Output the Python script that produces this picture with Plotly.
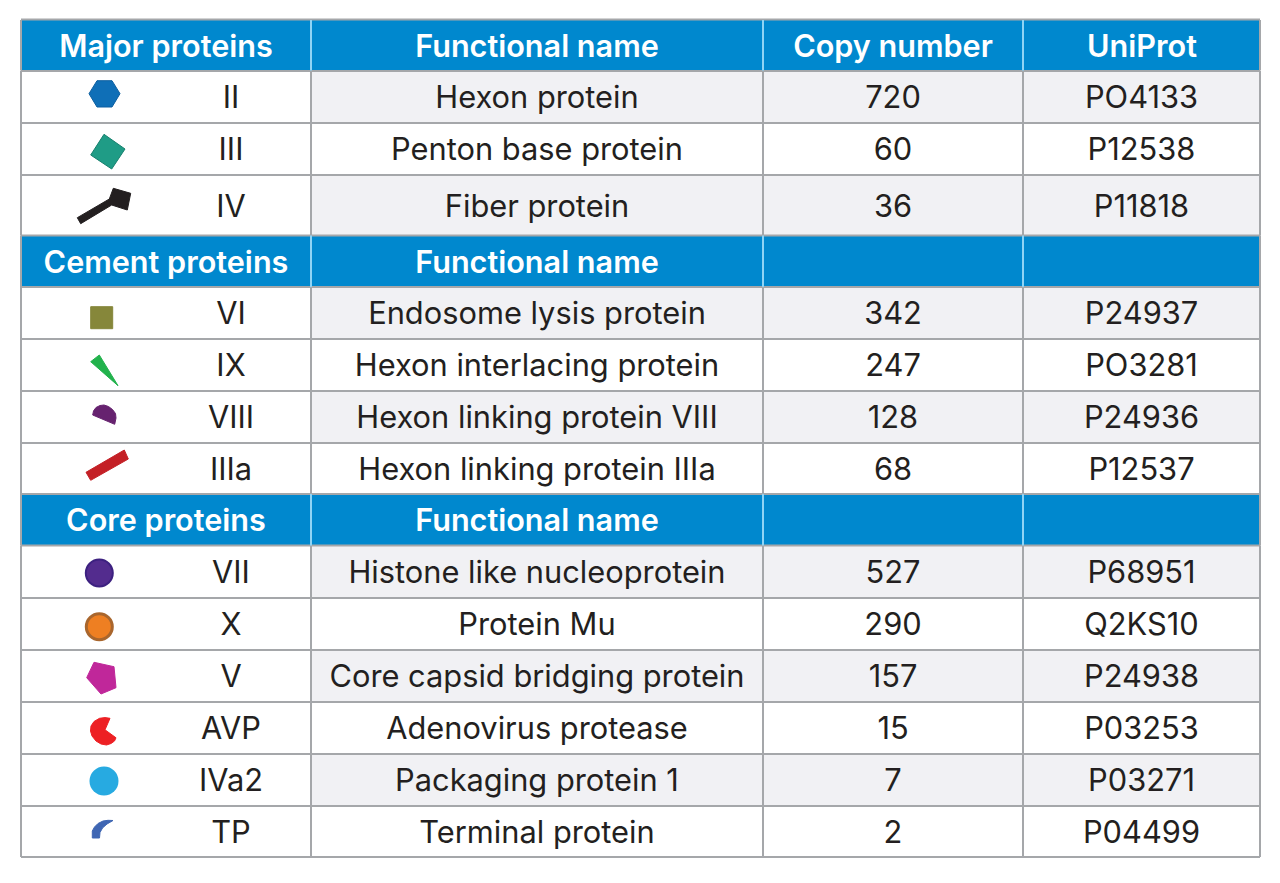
import plotly.graph_objects as go

# ---- table content -------------------------------------------------------
group_titles = ["Major proteins", "Cement proteins", "Core proteins"]
func_header = "Functional name"
top_headers = ["Copy number", "UniProt"]

protein_names = ["II", "III", "IV", "VI", "IX", "VIII", "IIIa", "VII", "X", "V", "AVP", "IVa2", "TP"]
functional_names = [
    "Hexon protein", "Penton base protein", "Fiber protein",
    "Endosome lysis protein", "Hexon interlacing protein", "Hexon linking protein VIII",
    "Hexon linking protein IIIa", "Histone like nucleoprotein", "Protein Mu",
    "Core capsid bridging protein", "Adenovirus protease", "Packaging protein 1", "Terminal protein",
]
copy_numbers = [720, 60, 36, 342, 247, 128, 68, 527, 290, 157, 15, 7, 2]
uniprot_ids = ["PO4133", "P12538", "P11818", "P24937", "PO3281", "P24936", "P12537",
               "P68951", "Q2KS10", "P24938", "P03253", "P03271", "P04499"]

# ---- table geometry ------------------------------------------------------
col_edges = [21, 311, 763, 1023, 1260]
name_x = 231
header_bands = [(20, 70.5), (235.5, 287), (494, 545.5)]
body_rows = [(71, 123), (123, 175), (175, 235.5), (287, 339), (339, 391), (391, 443), (443, 494),
             (545.5, 598), (598, 650), (650, 702), (702, 754), (754, 806), (806, 857)]
shaded_rows = [True, False, True, True, False, True, False, True, False, True, False, True, False]

HEADER = "#0088CE"
GRID = "#A5A7AA"
SHADE = "#F1F1F4"
INK = "#231F20"
SEP = "#8FD4F5"

# ---- icons ---------------------------------------------------------------
polygon_icons = [
    ([89, 97, 112, 120, 112, 97], [93.7, 80.7, 80.7, 93.7, 107, 107], "#0F6FB7", "#0C5FA0"),
    ([104, 125, 111.7, 90.7], [134.3, 149, 169, 155], "#1F9C86", "#16806D"),
    ([77.3, 109.3, 113.3, 130.7, 127.3, 111.7, 80.7], [217.7, 199, 188.3, 193.3, 210, 205, 223.7], "#231F20", "#231F20"),
    ([90.7, 112.7, 112.7, 90.7], [306.7, 306.7, 328.7, 328.7], "#86873A", "#86873A"),
    ([90.7, 99.3, 118], [361.7, 355, 385.7], "#22B24C", "#22B24C"),
    ([92.7, 93.5, 96, 100, 104, 108.5, 112.5, 115.5, 116, 114.7],
     [415, 411, 407.5, 405.5, 405, 406.5, 409.5, 413.5, 418, 424.3], "#66226F", "#66226F"),
    ([86, 124.3, 128.3, 90.7], [472.3, 450, 459, 480.3], "#C42026", "#C42026"),
    ([94, 114, 116, 101, 86.7], [662.3, 666.7, 687.7, 694, 677.7], "#C0279A", "#C0279A"),
    ([110, 105, 99.5, 94, 91, 90.5, 92, 96, 101, 106.5, 111, 114.5, 116, 105],
     [718.3, 717.6, 718.3, 721.5, 726, 731, 736, 741, 744, 745, 743.5, 741, 737.8, 729.8], "#ED2024", "#ED2024"),
    ([92.3, 92.3, 94.5, 98, 103, 108, 113, 107, 102.5, 100, 99.5],
     [838, 831, 827, 823.5, 821, 820.3, 820.5, 824, 828, 832.5, 838], "#3F66B3", "#3F66B3"),
]
disc_x = [99.3, 99.3, 104]
disc_y = [573, 626.7, 781]
disc_fill = ["#532C8E", "#EE7F22", "#27AAE1"]
disc_edge = ["#3D2180", "#A9662D", "#27AAE1"]
disc_edge_w = [2, 3, 0]

# ---- assembling ----------------------------------------------------------
shapes = []
for (r0, r1), sh in zip(body_rows, shaded_rows):
    if sh:
        shapes.append(dict(type="rect", x0=col_edges[1], x1=col_edges[-1], y0=r0, y1=r1,
                           fillcolor=SHADE, line_width=0, layer="below"))
for b0, b1 in header_bands:
    shapes.append(dict(type="rect", x0=col_edges[0], x1=col_edges[-1], y0=b0, y1=b1,
                       fillcolor=HEADER, line_width=0, layer="below"))
for r0, r1 in body_rows:
    for y in (r0, r1):
        shapes.append(dict(type="line", x0=col_edges[0], x1=col_edges[-1], y0=y, y1=y,
                           line=dict(color=GRID, width=2), layer="below"))
shapes.append(dict(type="line", x0=col_edges[0], x1=col_edges[-1], y0=19.5, y1=19.5,
                   line=dict(color=GRID, width=2), layer="below"))
for x in col_edges:
    for r0, r1 in body_rows:
        shapes.append(dict(type="line", x0=x, x1=x, y0=r0, y1=r1,
                           line=dict(color=GRID, width=2), layer="below"))
for x in col_edges[1:-1]:
    for b0, b1 in header_bands:
        shapes.append(dict(type="line", x0=x, x1=x, y0=b0, y1=b1,
                           line=dict(color=SEP, width=2), layer="below"))
for x in (col_edges[0], col_edges[-1]):
    for b0, b1 in header_bands:
        shapes.append(dict(type="line", x0=x, x1=x, y0=b0, y1=b1,
                           line=dict(color=GRID, width=2), layer="below"))

fig = go.Figure()
BODY = dict(family="Inter, sans-serif", size=30.8, color=INK)
HEAD = dict(family="Inter, sans-serif", size=30.6, color="white", weight=600)


def centers(col):
    return [(col_edges[col] + col_edges[col + 1]) / 2] * len(body_rows)


row_y = [(a + b) / 2 + 3.7 for a, b in body_rows]
for xs, labels in (([name_x] * len(body_rows), protein_names),
                   (centers(1), functional_names),
                   (centers(2), [str(v) for v in copy_numbers]),
                   (centers(3), uniprot_ids)):
    fig.add_trace(go.Scatter(x=xs, y=row_y, text=labels, mode="text",
                             textposition="middle center", textfont=BODY, hoverinfo="skip"))

head_y = [(a + b) / 2 + 4 for a, b in header_bands]
fig.add_trace(go.Scatter(x=[166] * 3, y=head_y, text=group_titles, mode="text", textfont=HEAD, hoverinfo="skip"))
fig.add_trace(go.Scatter(x=[537] * 3, y=head_y, text=[func_header] * 3, mode="text", textfont=HEAD, hoverinfo="skip"))
fig.add_trace(go.Scatter(x=[893, 1142], y=[head_y[0]] * 2, text=top_headers, mode="text", textfont=HEAD, hoverinfo="skip"))

for px, py, fill, edge in polygon_icons:
    fig.add_trace(go.Scatter(x=px + px[:1], y=py + py[:1], mode="lines", fill="toself", fillcolor=fill,
                             line=dict(color=edge, width=1), hoverinfo="skip"))
fig.add_trace(go.Scatter(x=disc_x, y=disc_y, mode="markers", hoverinfo="skip",
                         marker=dict(symbol="circle", size=[27, 26, 29], color=disc_fill, opacity=1,
                                     line=dict(color=disc_edge, width=disc_edge_w))))

fig.update_layout(
    width=1280, height=883, margin=dict(l=0, r=0, t=0, b=0), showlegend=False,
    paper_bgcolor="white", plot_bgcolor="white", shapes=shapes,
    xaxis=dict(range=[0, 1280], visible=False, fixedrange=True),
    yaxis=dict(range=[883, 0], visible=False, fixedrange=True),
)
fig.write_html("out.html", config=dict(displayModeBar=False),
               post_script="document.body.style.margin='0';")
